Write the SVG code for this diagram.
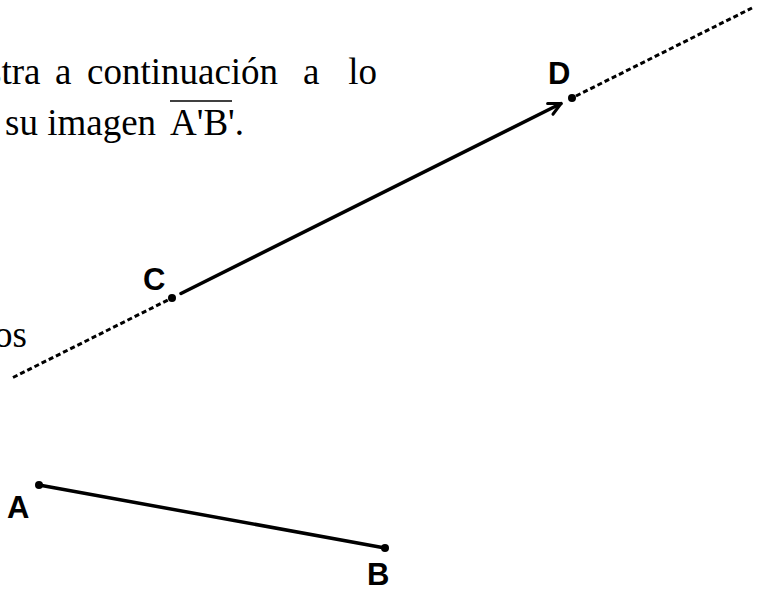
<svg xmlns="http://www.w3.org/2000/svg" width="768" height="589" viewBox="0 0 768 589">
  <style>
    .body { font-family: "Liberation Serif", "Times New Roman", serif; font-size: 37px; fill: #000; }
    .lbl { font-family: "Liberation Sans", Arial, sans-serif; font-weight: bold; font-size: 31px; fill: #000; }
    .dot { fill: #000; }
    .solid { stroke: #000; stroke-width: 3.5; fill: none; stroke-linecap: round; }
    .dash { stroke: #000; stroke-width: 3; fill: none; stroke-dasharray: 5 3; }
  </style>
  <defs>
    <marker id="open" viewBox="0 0 16 16" refX="14" refY="8" markerWidth="16" markerHeight="16" markerUnits="userSpaceOnUse" orient="auto">
      <path d="M2,2 L14,8 L2,14" fill="none" stroke="#000" stroke-width="3" stroke-linecap="round" stroke-linejoin="round"/>
    </marker>
  </defs>
  <rect width="768" height="589" fill="#fff"/>

  <g id="text">
    <text class="body" y="84"><tspan x="-13">stra</tspan><tspan x="55">a</tspan><tspan x="87">continuación</tspan><tspan x="303">a</tspan></text>
    <text class="body" x="377" y="84" text-anchor="end">lo</text>
    <text class="body" y="135"><tspan x="5">su imagen</tspan><tspan x="170">A'B'.</tspan></text>
    <line x1="170" y1="101" x2="232" y2="101" stroke="#000" stroke-width="1.6"/>
    <text class="body" x="27" y="347" text-anchor="end">os</text>
  </g>

  <g id="connectors">
    <line class="dash" x1="13" y1="377.5" x2="168" y2="300"/>
    <line class="dash" x1="576" y1="96" x2="752" y2="8"/>
    <line class="solid" x1="181" y1="293.5" x2="561" y2="103.5" marker-end="url(#open)"/>
    <line class="solid" x1="39" y1="485" x2="385" y2="548"/>
  </g>

  <g id="node-A">
    <circle class="dot" cx="39" cy="485" r="4"/>
    <text class="lbl" x="7" y="518">A</text>
  </g>
  <g id="node-B">
    <circle class="dot" cx="385" cy="548" r="4"/>
    <text class="lbl" x="367" y="585">B</text>
  </g>
  <g id="node-C">
    <circle class="dot" cx="172" cy="298" r="4"/>
    <text class="lbl" x="143" y="290">C</text>
  </g>
  <g id="node-D">
    <circle class="dot" cx="572" cy="98" r="4"/>
    <text class="lbl" x="548" y="84">D</text>
  </g>
</svg>
